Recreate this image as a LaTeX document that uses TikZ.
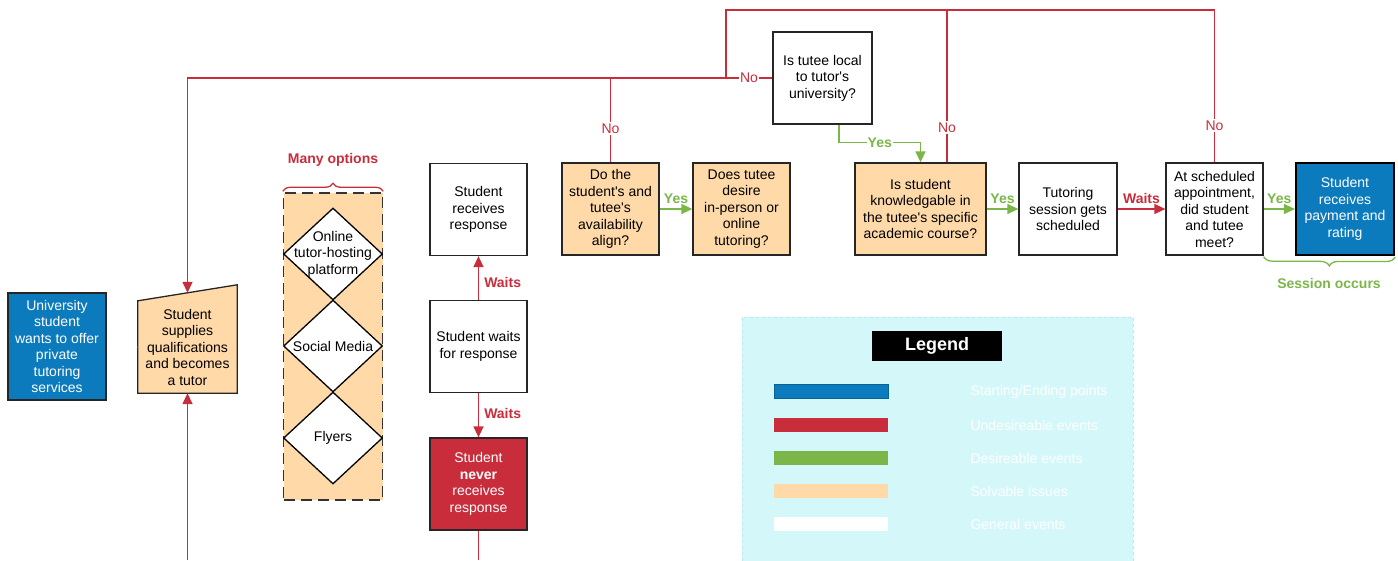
\documentclass[tikz,border=0pt]{standalone}
\usepackage{fontspec}
\setmainfont{Liberation Sans}
\usetikzlibrary{arrows.meta,shapes.geometric,decorations.pathreplacing,backgrounds,calc}
\definecolor{startblue}{RGB}{11,123,189}
\definecolor{badred}{RGB}{201,45,59}
\definecolor{goodgreen}{RGB}{122,182,72}
\definecolor{issue}{RGB}{255,218,168}
\definecolor{legendbg}{RGB}{212,248,250}
\definecolor{legendedge}{RGB}{185,232,238}
\newcommand{\apos}{\textquotesingle}
\begin{document}
\begin{tikzpicture}[x=1pt,y=-1pt,
  every node/.style={font=\fontsize{14}{16.5}\selectfont},
  box/.style={draw=black!85, line width=1.3pt, align=center, inner sep=0pt,
    fill=white, minimum width=97pt, minimum height=92pt},
  startbox/.style={box, fill=startblue, text=white},
  issuebox/.style={box, fill=issue},
  badbox/.style={box, fill=badred, text=white},
  redline/.style={draw=badred, line width=1.5pt},
  greenline/.style={draw=goodgreen, line width=1.5pt},
  ghost/.style={draw=white, line width=1.2pt},
  tip/.style={-{Triangle[length=11pt,width=10pt]}},
  nolabel/.style={text=badred, fill=white, inner sep=1.5pt},
  yeslabel/.style={text=goodgreen, inner sep=5pt, font=\fontsize{14}{16}\selectfont\bfseries},
  waitlabel/.style={text=badred, inner sep=5pt, font=\fontsize{14}{16}\selectfont\bfseries},
  optdiamond/.style={diamond, draw=black, line width=1.3pt, fill=white,
    minimum width=99pt, minimum height=92pt, inner sep=0pt},
  legbar/.style={minimum width=114pt, minimum height=14pt, inner sep=0pt},
  legtext/.style={anchor=west, text=white}
]
\useasboundingbox (0,0) rectangle (1398,560);
\coordinate (topy) at (0,10);
\coordinate (bot) at (0,560);

% ---------- legend panel ----------
\node[fill=legendbg, draw=legendedge, dashed, line width=0.8pt, anchor=north west,
  minimum width=391pt, minimum height=255pt, inner sep=0pt] (legend) at (742,317) {};
\node[fill=black, text=white, minimum width=130pt, minimum height=30pt, inner sep=0pt,
  font=\fontsize{18}{20}\selectfont\bfseries] (legtitle) at (937,346) {Legend};
\node[legbar, fill=startblue, draw=startblue!80!black, line width=0.5pt] (bar1) at (831,391.5) {};
\node[legbar, fill=badred] (bar2) at (831,424.5) {};
\node[legbar, fill=goodgreen] (bar3) at (831,457.5) {};
\node[legbar, fill=issue] (bar4) at (831,490.5) {};
\node[legbar, fill=white] (bar5) at (831,523.5) {};
\node[legtext] (lt1) at (967,392) {Starting/Ending points};
\node[legtext] (lt2) at (967,425) {Undesireable events};
\node[legtext] (lt3) at (967,458) {Desireable events};
\node[legtext] (lt4) at (967,491) {Solvable issues};
\node[legtext] (lt5) at (967,524) {General events};

% ---------- left part ----------
\node[startbox, minimum width=98pt, minimum height=107pt] (univ) at (57,346.5)
  {University\\student\\wants to offer\\private\\tutoring\\services};

\node[align=center, inner sep=0pt, minimum width=99pt, minimum height=92pt] (supplies) at (187.5,347)
  {Student\\supplies\\qualifications\\and becomes\\a tutor};
\begin{scope}[on background layer]
  \draw[black!85, line width=1.3pt, fill=issue]
    (supplies.south west) -- (supplies.south east)
    -- ($(supplies.north east)+(0,-16)$) -- (supplies.north west) -- cycle;
\end{scope}
\coordinate (suptop) at ($(supplies.north)+(0,-8)$);

% options group
\node[draw=black!80, dash pattern=on 11pt off 6pt, line width=1.5pt, fill=issue,
  minimum width=99pt, minimum height=307pt, inner sep=0pt] (group) at (333,346.5) {};
\node[optdiamond] (d1) at (333,254) {};
\node[align=center] (d1t) at (d1) {Online\\tutor-hosting\\platform};
\node[optdiamond] (d2) at (333,346) {};
\node (d2t) at (d2) {Social Media};
\node[optdiamond] (d3) at (333,438) {};
\node (d3t) at (d3) {Flyers};
\draw[badred, line width=1.3pt, decorate, decoration={brace, amplitude=8pt}]
  ([yshift=1pt]group.north west) -- ([yshift=1pt]group.north east);
\node[text=badred, font=\fontsize{14}{16}\selectfont\bfseries] (many) at (333,160) {Many options};

% response column
\node[box] (recv) at (478.5,209.5) {Student\\receives\\response};
\node[box] (wait) at (478.5,346.5) {Student waits\\for response};
\node[badbox] (never) at (478.5,484) {Student\\\textbf{never}\\receives\\response};
\draw[redline, tip] (wait.north) -- node[waitlabel, right, pos=0.4]{Waits} (recv.south);
\draw[redline, tip] (wait.south) -- node[waitlabel, right, pos=0.45]{Waits} (never.north);
\draw[redline] (never.south) -- (never.south |- bot);
\draw[redline, tip] (supplies.south |- bot) -- (supplies.south);

% ---------- top row ----------
\node[issuebox] (dothe) at (610.5,209) {Do the\\student\apos s and\\tutee\apos s\\availability\\align?};
\node[issuebox] (does) at (741.5,209) {Does tutee\\desire\\in-person or\\online\\tutoring?};
\node[box, minimum width=99pt] (local) at (822.5,78) {Is tutee local\\to tutor\apos s\\university?};
\node[issuebox, minimum width=131pt] (know) at (920.5,209)
  {Is student\\knowledgable in\\the tutee\apos s specific\\academic course?};
\node[box, minimum width=98pt] (tut) at (1068,209) {Tutoring\\session gets\\scheduled};
\node[box] (at) at (1214.5,209) {At scheduled\\appointment,\\did student\\and tutee\\meet?};
\node[startbox, minimum width=98pt, line width=2.2pt, draw=black] (pay) at (1345,209)
  {Student\\receives\\payment and\\rating};

% faint connectors drawn in white
\begin{scope}[on background layer]
  \draw[ghost, tip] (univ.east) -- (supplies.west);
  \draw[ghost, tip] (d1.east) -- ++(22,0) |- ([yshift=20pt]wait.west);
  \draw[ghost, tip] (d2.east) -- (wait.west);
  \draw[ghost, tip] (d3.east) -- ++(22,0) |- ([yshift=-20pt]wait.west);
  \draw[ghost, tip] (does.north) |- (805,145) -- ([xshift=-17.5pt]local.south);
  \draw[ghost, tip] (does.east) -- (know.west);
\end{scope}
\node[text=white] (inperson) at (740,133) {In-Person};
\node[text=white] (online) at (822,195) {Online};

% green "yes" flow
\draw[greenline, tip] (dothe.east) -- node[yeslabel, above]{Yes} (does.west);
\draw[greenline, tip] ([xshift=16.5pt]local.south) |- node[pos=0.75, yeslabel, fill=white, inner sep=1pt]{Yes}
  ($(know.north)+(0,-20)$) -- (know.north);
\draw[greenline, tip] (know.east) -- node[yeslabel, above]{Yes} (tut.west);
\draw[redline, tip] (tut.east) -- node[waitlabel, above]{Waits} (at.west);
\draw[greenline, tip] (at.east) -- node[yeslabel, above]{Yes} (pay.west);

% session brace
\draw[goodgreen, line width=1.3pt, decorate, decoration={brace, amplitude=9pt}]
  ([yshift=-1pt]pay.south east) -- ([yshift=-1pt]at.south east);
\node[text=goodgreen, font=\fontsize{14}{16}\selectfont\bfseries] (session) at (1329,283) {Session occurs};

% red "no" loops back to the tutor step
\coordinate (junction) at (726,78);
\draw[redline, tip] (local.west) -- node[nolabel, pos=0.04]{No} (local.west -| supplies.north) -- (suptop);
\draw[redline] (dothe.north) -- node[nolabel, pos=0.4]{No} (dothe.north |- local.west);
\draw[redline] (at.north) -- node[nolabel, pos=0.24]{No} (at.north |- topy) -| (junction);
\draw[redline] ([xshift=26.5pt]know.north) -- node[nolabel, pos=0.23]{No} ([xshift=26.5pt]know.north |- topy);
\end{tikzpicture}
\end{document}
